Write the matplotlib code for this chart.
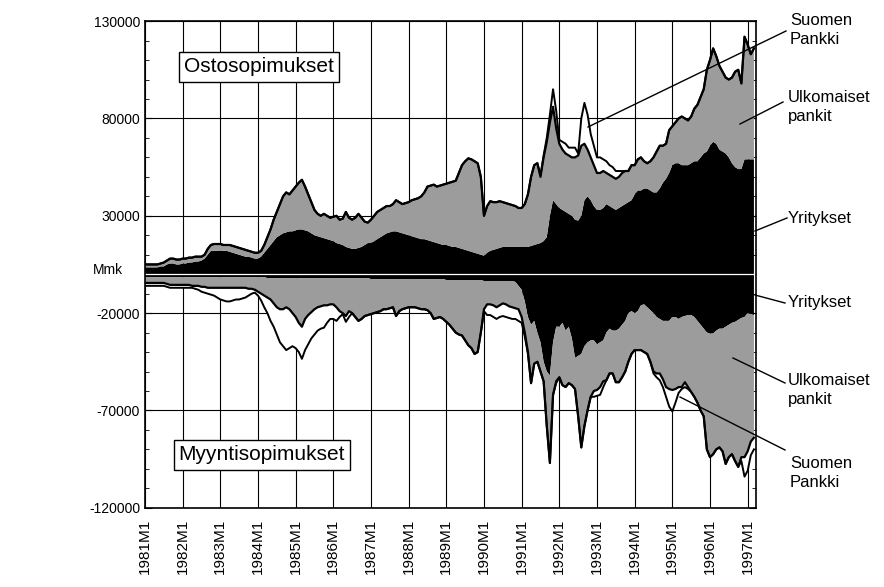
import numpy as np
import matplotlib
matplotlib.use('Agg')
import matplotlib.pyplot as plt
from matplotlib.ticker import MultipleLocator
from matplotlib.lines import Line2D

plt.rcParams['font.family'] = ['Liberation Sans', 'DejaVu Sans']
plt.rcParams['axes.unicode_minus'] = False

# kuukausittaiset kannat, 1000 Mmk, 1981M1 - 1997M3
# ostosopimukset (positiivinen puoli)
yrit_os = [3.5, 3.5, 3.5, 3.5, 3.5, 4, 4, 5, 5.5, 5.5, 5, 5,            # 1981
           5.5, 5.5, 6, 6, 6.5, 6.5, 7, 8, 10, 12, 12, 12,               # 1982
           12, 12, 12, 11.5, 11, 10.5, 10, 9.5, 9, 9, 8.5, 8,            # 1983
           8, 9, 11, 13, 15, 17, 19, 20, 21, 21.5, 22, 22,               # 1984
           22.5, 23, 23, 22.5, 22, 21, 20, 19.5, 19, 18.5, 18, 17.5,     # 1985
           17, 16, 15.5, 15, 14, 13.5, 13, 13, 13.5, 14, 15, 16,         # 1986
           16, 17, 18, 19, 20, 21, 21.5, 22, 22, 21.5, 21, 20.5,         # 1987
           20, 19.5, 19, 18.5, 18, 18, 17.5, 17, 16.5, 16, 15.5, 15,     # 1988
           15, 14.5, 14, 14, 13.5, 13, 12.5, 12, 11.5, 11, 10.5, 10,     # 1989
           9.5, 11, 12, 12.5, 13, 13.5, 14, 14, 14, 14, 14, 14,          # 1990
           14, 14, 14, 14.5, 15, 15.5, 16, 17, 19, 30, 38, 36,           # 1991
           34, 33, 32, 31, 30, 28, 27.5, 30, 38, 40, 38, 35,             # 1992
           33, 33, 34, 36, 35, 34, 33, 34, 35, 36, 37, 38,               # 1993
           41, 43, 43, 44, 44, 43, 42, 42, 44, 47, 49, 52,               # 1994
           56, 57, 57, 56, 56, 56, 57, 58, 58, 60, 62, 63,               # 1995
           66, 68, 67, 64, 63, 62, 60, 57, 55, 54, 54, 59,               # 1996
           59, 59, 59]                                                   # 1997

ulk_os = [1.5, 1.5, 1.5, 1.5, 1.5, 1.5, 2, 2, 2.5, 2.5, 2.5, 2.5,
          2.5, 2.5, 2.5, 2.5, 2.5, 2.5, 2, 2, 3, 3, 3.5, 3.5,
          3.5, 3, 3, 3.5, 3.5, 3.5, 3.5, 3.5, 3.5, 3, 3, 3,
          3, 3, 4, 6, 8, 11, 13, 16, 19, 20.5, 19, 21,
          22.5, 24, 25.5, 22.5, 19, 16, 13, 11.5, 11, 12.5, 12, 11.5,
          12.5, 14, 12.5, 13.5, 18, 15.5, 15, 16, 17.5, 15, 12, 10.5,
          12, 13, 14, 14, 14, 14, 13.5, 14, 16, 15.5, 15, 16,
          17, 18.5, 19.5, 20.5, 22, 24, 27.5, 28.5, 29.5, 29, 30, 31,
          31.5, 32.5, 33.5, 34, 38.5, 43, 45.5, 47.5, 47.5, 47, 46.5, 40,
          20.5, 24, 25.5, 24.5, 24, 24, 23, 22.5, 22, 21.5, 21, 20,
          20, 22, 27, 35.5, 41, 41.5, 34, 43, 49, 48, 48, 39,
          33, 31, 30, 30, 30, 32, 33.5, 36, 29, 24, 22, 21,
          19, 19, 19, 16, 16, 16, 16, 16, 17, 17, 16, 18,
          15, 16, 17, 14, 13, 15, 18, 21, 22, 19, 18, 22,
          20, 21, 23, 25, 24, 23, 24, 27, 29, 31, 33, 42,
          44, 48, 45, 43, 41, 39, 40, 44, 49, 51, 44, 63,
          59, 54, 57]

sp_os = ([0] * 12 * 10                                  # 1981-1990
         + [0, 0, 0, 0, 0, 0, 1, 1, 2, 4, 9, 9]          # 1991
         + [2, 4, 5, 4, 5, 5, 1, 14, 21, 18, 12, 10]     # 1992
         + [8, 8, 6, 6, 5, 5, 4, 3, 1, 0, 0, 0]          # 1993
         + [0] * 12 * 3                                  # 1994-1996
         + [0, 0, 0])                                    # 1997

# myyntisopimukset (negatiivinen puoli, itseisarvot)
yrit_my = ([1.5] * 36
           + [1.5, 1.5, 1.5, 2, 2, 2, 2, 2, 2, 2, 2, 2]
           + [2] * 24
           + [2.5] * 24
           + [3] * 12
           + [3.5] * 10 + [4, 6]
           + [8, 14, 22, 26, 24, 30, 35, 45, 50, 52, 35, 27]
           + [27, 25, 29, 27, 33, 43, 42, 41, 37, 35, 34, 34]
           + [36, 35, 34, 30, 28, 29, 29, 28, 26, 24, 20, 19]
           + [20, 19, 16, 15.5, 17, 18.5, 20, 22, 23, 24, 24, 24]
           + [22, 22, 23, 22, 21.5, 21, 21, 22, 24, 26, 28, 30]
           + [30.5, 30.5, 29, 28, 28, 27, 26, 25, 24.5, 23.5, 22.5, 22]
           + [20, 20.5, 21])

ulk_my = [3, 3, 3, 3, 3, 3, 3, 3.5, 4, 4, 4, 4,
          4, 4, 4, 4.5, 4.5, 4.5, 5, 5, 5.5, 5.5, 5.5, 5.5,
          5.5, 5.5, 5.5, 5.5, 5.5, 5.5, 5.5, 5.5, 5.5, 6, 6, 6.5,
          7.5, 8.5, 9.5, 10, 11, 13, 15, 16, 16, 15, 16, 18,
          20, 23, 25, 21, 19, 17.5, 16, 15, 14.5, 14, 14, 13.5,
          13.5, 15, 17, 18, 19.5, 17, 18, 20, 22, 21, 19.5, 19,
          18, 17.5, 17, 16.5, 15.5, 15.5, 15, 14.5, 19, 16.5, 15.5, 15,
          14.5, 14.5, 14.5, 15, 15.5, 15.5, 16, 17.5, 20.5, 20, 19.5, 20.5,
          21.5, 23, 25, 27, 28, 28.5, 31, 33.5, 35, 38, 37, 27,
          14.5, 12, 12, 12.5, 13.5, 12.5, 11.5, 12, 13, 13.5, 13.5, 12,
          14, 16, 18, 30, 22, 15, 15, 10, 28, 45, 27, 28,
          26, 32, 29, 29, 24, 16, 31, 48, 41, 35, 29, 26,
          23.5, 23, 21, 24.5, 23, 22, 26.5, 27.5, 27, 26, 25, 22,
          19, 20, 23, 24.5, 24, 26.5, 30, 29, 28, 30, 34, 35,
          37.5, 37, 35, 36, 34, 37, 39.5, 41, 42, 44, 45, 60,
          63.5, 62, 61, 61, 63, 70.5, 68, 67.5, 71.5, 75.5, 71.5, 72,
          71, 65.5, 63]

sp_my = ([1.5] * 12
         + [1.5, 1.5, 1.5, 1, 1.5, 2, 2.5, 3, 3, 3.5, 4, 5]
         + [6, 6.5, 7, 7, 6.5, 6, 6, 5.5, 5, 3.5, 2.5, 1.5]
         + [2, 3.5, 6, 8, 11, 12, 14, 17, 19, 22, 20, 17]
         + [16, 15, 16.5, 16, 15, 13.5, 13, 12, 11.5, 11.5, 9, 7.5]
         + [7.5, 7, 3, 0.5, 3, 3, 0, 0, 0, 0, 0, 0]
         + [0] * 36
         + [1, 5.5, 5.5, 6, 6, 6, 6.5, 6.5, 6, 6, 5.5, 6]
         + [3, 2, 1, 0, 0, 0, 0, 0, 0, 0, 0, 1]
         + [0] * 11 + [3]
         + [3, 4, 3] + [0] * 9
         + [0, 0, 0, 0, 0, 0, 1, 2, 3.5, 4, 5, 9]
         + [11, 7, 3, 1, 2.5, 1, 0, 0, 0, 0, 0, 0]
         + [0] * 10 + [2, 10]
         + [10, 7, 6])

vuodet = list(range(1981, 1998))
x_labels = [f'{v}M1' for v in vuodet]
y_ticks = [-120000, -70000, -20000, 30000, 80000, 130000]

os_parts = [np.array(s) * 1000 for s in (yrit_os, ulk_os, sp_os)]
my_parts = [-np.array(s) * 1000 for s in (yrit_my, ulk_my, sp_my)]
kk = np.arange(len(yrit_os))

grey = '#9c9c9c'
fig = plt.figure(figsize=(8.84, 5.87), dpi=100)
ax = fig.add_axes([0.164, 0.135, 0.691, 0.829])
ax.set_axisbelow(True)

ax.stackplot(kk, *os_parts, colors=['black', grey, 'white'], lw=0)
ax.stackplot(kk, *my_parts, colors=['black', grey, 'white'], lw=0)
for parts in (os_parts, my_parts):
    cum = np.cumsum(parts, axis=0)
    ax.plot(kk, cum[1], color='black', lw=1.6)
    ax.plot(kk, cum[2], color='black', lw=1.4)
ax.axhline(0, color='white', lw=0.9)

ax.set_xlim(0, 194.6)
ax.set_ylim(-120000, 130000)
ax.set_yticks(y_ticks)
ax.yaxis.set_minor_locator(MultipleLocator(10000))
ax.tick_params(axis='y', which='both', direction='in', left=True, right=True, labelsize=10)
ax.tick_params(axis='y', which='major', length=5)
ax.tick_params(axis='y', which='minor', length=3)
ax.set_xticks(range(0, 193, 12))
ax.set_xticklabels(x_labels, rotation=90, fontsize=11)
ax.tick_params(axis='x', length=0, pad=8)
ax.grid(True, which='major', color='black', lw=0.8)
for s in ax.spines.values():
    s.set_linewidth(1.2)

fig.text(93 / 884, 1 - 270 / 587, 'Mmk', fontsize=10, va='center')

box = dict(boxstyle='square,pad=0.25', fc='white', ec='black', lw=1)
fig.text(259 / 884, 1 - 67 / 587, 'Ostosopimukset', fontsize=15, ha='center', va='center', bbox=box)
fig.text(262 / 884, 1 - 455 / 587, 'Myyntisopimukset', fontsize=15, ha='center', va='center', bbox=box)

labels = [('Suomen\nPankki', 790, 30), ('Ulkomaiset\npankit', 788, 107), ('Yritykset', 788, 218),
          ('Yritykset', 788, 303), ('Ulkomaiset\npankit', 788, 390), ('Suomen\nPankki', 790, 473)]
for txt, lx, ly in labels:
    fig.text(lx / 884, 1 - ly / 587, txt, fontsize=12, va='center', linespacing=1.3)

leaders = [((786, 31), (588, 127)), ((783, 102), (740, 124)), ((787, 218), (755, 231)),
           ((785, 303), (755, 295)), ((785, 383), (733, 358)), ((785, 450), (680, 397))]
for (x0, y0), (x1, y1) in leaders:
    fig.add_artist(Line2D([x0 / 884, x1 / 884], [1 - y0 / 587, 1 - y1 / 587],
                          transform=fig.transFigure, color='black', lw=1))

fig.savefig('out.png', dpi=100)
